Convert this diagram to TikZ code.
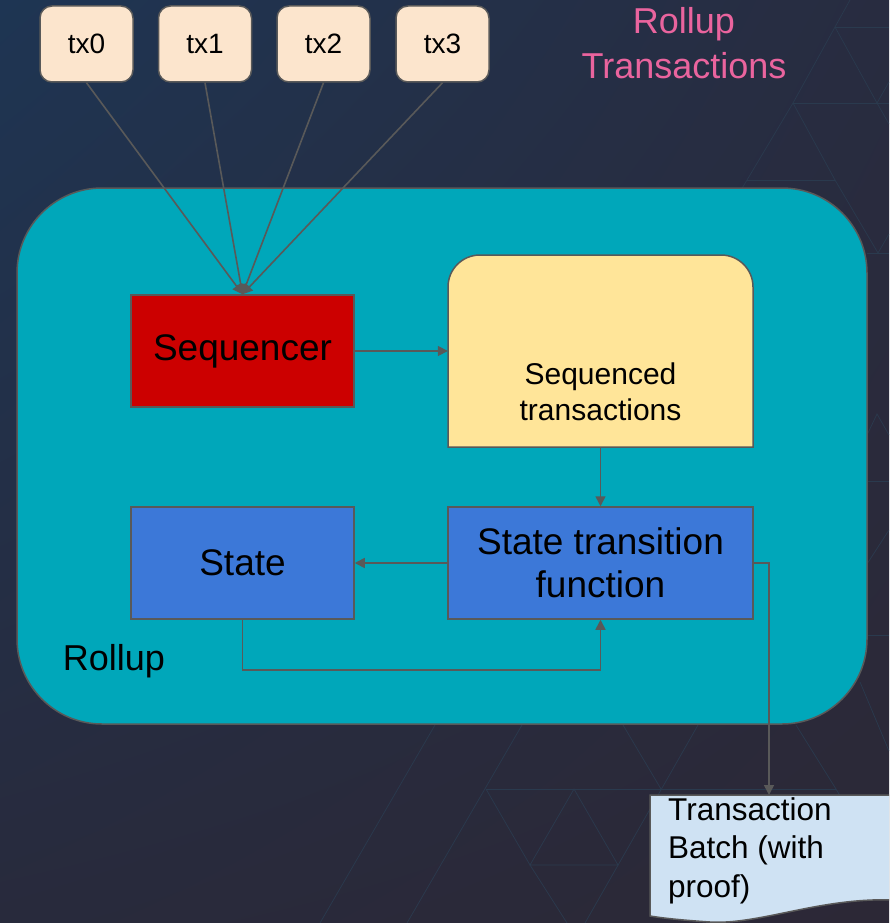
\documentclass[tikz,border=0pt]{standalone}
\usepackage{fontspec}
\setmainfont{Liberation Sans}
\usetikzlibrary{arrows.meta, shadings}

\definecolor{bgtl}{RGB}{30,53,83}
\definecolor{bgtr}{RGB}{40,44,64}
\definecolor{bgbl}{RGB}{40,42,60}
\definecolor{bgbr}{RGB}{44,40,54}
\definecolor{trigray}{RGB}{42,58,78}
\definecolor{linegray}{RGB}{89,89,89}
\definecolor{txfill}{RGB}{252,229,205}
\definecolor{rollupfill}{RGB}{0,167,186}
\definecolor{seqred}{RGB}{204,0,0}
\definecolor{seqyellow}{RGB}{255,229,153}
\definecolor{stateblue}{RGB}{60,120,216}
\definecolor{batchfill}{RGB}{207,226,243}
\definecolor{titlepink}{RGB}{234,100,158}

\tikzset{
  txbox/.style={draw=linegray, line width=1.5pt, fill=txfill, rounded corners=12pt,
    minimum width=93pt, minimum height=76pt, font=\fontsize{28}{32}\selectfont},
  flowbox/.style={draw=linegray, line width=1.5pt, minimum height=112pt,
    font=\fontsize{37}{43}\selectfont, align=center},
  conn/.style={draw=linegray, line width=1.6pt, -{Triangle[length=10pt,width=10pt]}},
  deco/.style={draw=trigray, line width=0.7pt},
}

\begin{document}
\begin{tikzpicture}[x=1pt, y=-1pt]

  \useasboundingbox (0,0) rectangle (889,923);
  \clip (0,0) rectangle (889,923);

  % Hintergrund
  \shade[upper left=bgtl, upper right=bgtr, lower left=bgbl, lower right=bgbr]
    (0,0) rectangle (889,923);

  % Dreiecke oben rechts
  \draw[deco] (850,0) -- (835,27) -- (793,103) -- (747,180) -- (735,200);
  \draw[deco] (835,27) -- (889,27);
  \draw[deco] (835,27) -- (877,103) -- (889,124);
  \draw[deco] (877,103) -- (889,82);
  \draw[deco] (793,103) -- (889,103);
  \draw[deco] (793,103) -- (835,180) -- (878,253) -- (889,234);
  \draw[deco] (747,180) -- (835,180);
  \draw[deco] (867,253) -- (889,253);

  % Dreiecke rechts
  \draw[deco] (867,435) -- (877,414) -- (889,435);
  \draw[deco] (867,481) -- (889,481);
  \draw[deco] (867,564) -- (889,530);
  \draw[deco] (867,635) -- (889,635);
  \draw[deco] (860,682) -- (889,751);

  % Dreiecke unten
  \draw[deco] (522,725) -- (407,923);
  \draw[deco] (435,725) -- (320,923);
  \draw[deco] (486,789) -- (836,789);
  \draw[deco] (486,789) -- (530,865) -- (567,923);
  \draw[deco] (574,789) -- (530,865) -- (618,865) -- cycle;
  \draw[deco] (698,725) -- (585,923);
  \draw[deco] (623,725) -- (661,789);
  \draw[deco] (796,725) -- (836,789) -- (860,830);

  % Rollup
  \draw[linegray, line width=1.5pt, fill=rollupfill, rounded corners=85pt]
    (17,188) rectangle (867,724);
  \node[font=\fontsize{36}{43}\selectfont] (rolluplabel) at (114,661) {Rollup};

  % Titel
  \node[text=titlepink, font=\fontsize{36}{45}\selectfont, align=center] (title) at (684,43)
    {Rollup\\Transactions};

  % Transaktionen
  \node[txbox] (tx0) at (86.5,44) {tx0};
  \node[txbox] (tx1) at (205,44) {tx1};
  \node[txbox] (tx2) at (323.5,44) {tx2};
  \node[txbox] (tx3) at (442.5,44) {tx3};

  % Sequencer
  \node[flowbox, fill=seqred, minimum width=223pt, text depth=7pt] (seq) at (242.5,351) {Sequencer};

  % Sequenced transactions
  \draw[linegray, line width=1.5pt, fill=seqyellow]
    (448,447) -- (448,287) .. controls (448,269.3) and (462.3,255) .. (480,255)
    -- (721,255) .. controls (738.7,255) and (753,269.3) .. (753,287)
    -- (753,447) -- cycle;
  \node[minimum width=305pt, minimum height=192pt] (seqtx) at (600.5,351) {};
  \node[font=\fontsize{30}{36}\selectfont, align=center] (seqtxlabel) at (600.5,392)
    {Sequenced\\transactions};

  % State und Zustandsfunktion
  \node[flowbox, fill=stateblue, minimum width=223pt] (state) at (242.5,563) {State};
  \node[flowbox, fill=stateblue, minimum width=305pt] (stf) at (600.5,563)
    {State transition\\function};

  % Transaction Batch
  \draw[linegray, line width=1.5pt, fill=batchfill]
    (650,795) -- (895,795) -- (895,900)
    .. controls (820,897) and (760,925) .. (710,922)
    .. controls (680,920) and (662,918) .. (650,916) -- cycle;
  \coordinate (batchin) at (769,795);
  \node[anchor=north west, inner sep=0pt, align=left, font=\fontsize{31.5}{38.5}\selectfont]
    (batch) at (668,797) {Transaction\\Batch (with\\proof)};

  % Verbindungen
  \foreach \t in {tx0, tx1, tx2, tx3} {
    \draw[conn] (\t.south) -- (seq.north);
  }
  \draw[conn] (seq.east) -- (seqtx.west);
  \draw[conn] (seqtx.south) -- (stf.north);
  \draw[conn] (stf.west) -- (state.east);
  \draw[conn] (state.south) -- ++(0,50) -| (stf.south);
  \draw[conn] (stf.east) -| (batchin);

\end{tikzpicture}
\end{document}
